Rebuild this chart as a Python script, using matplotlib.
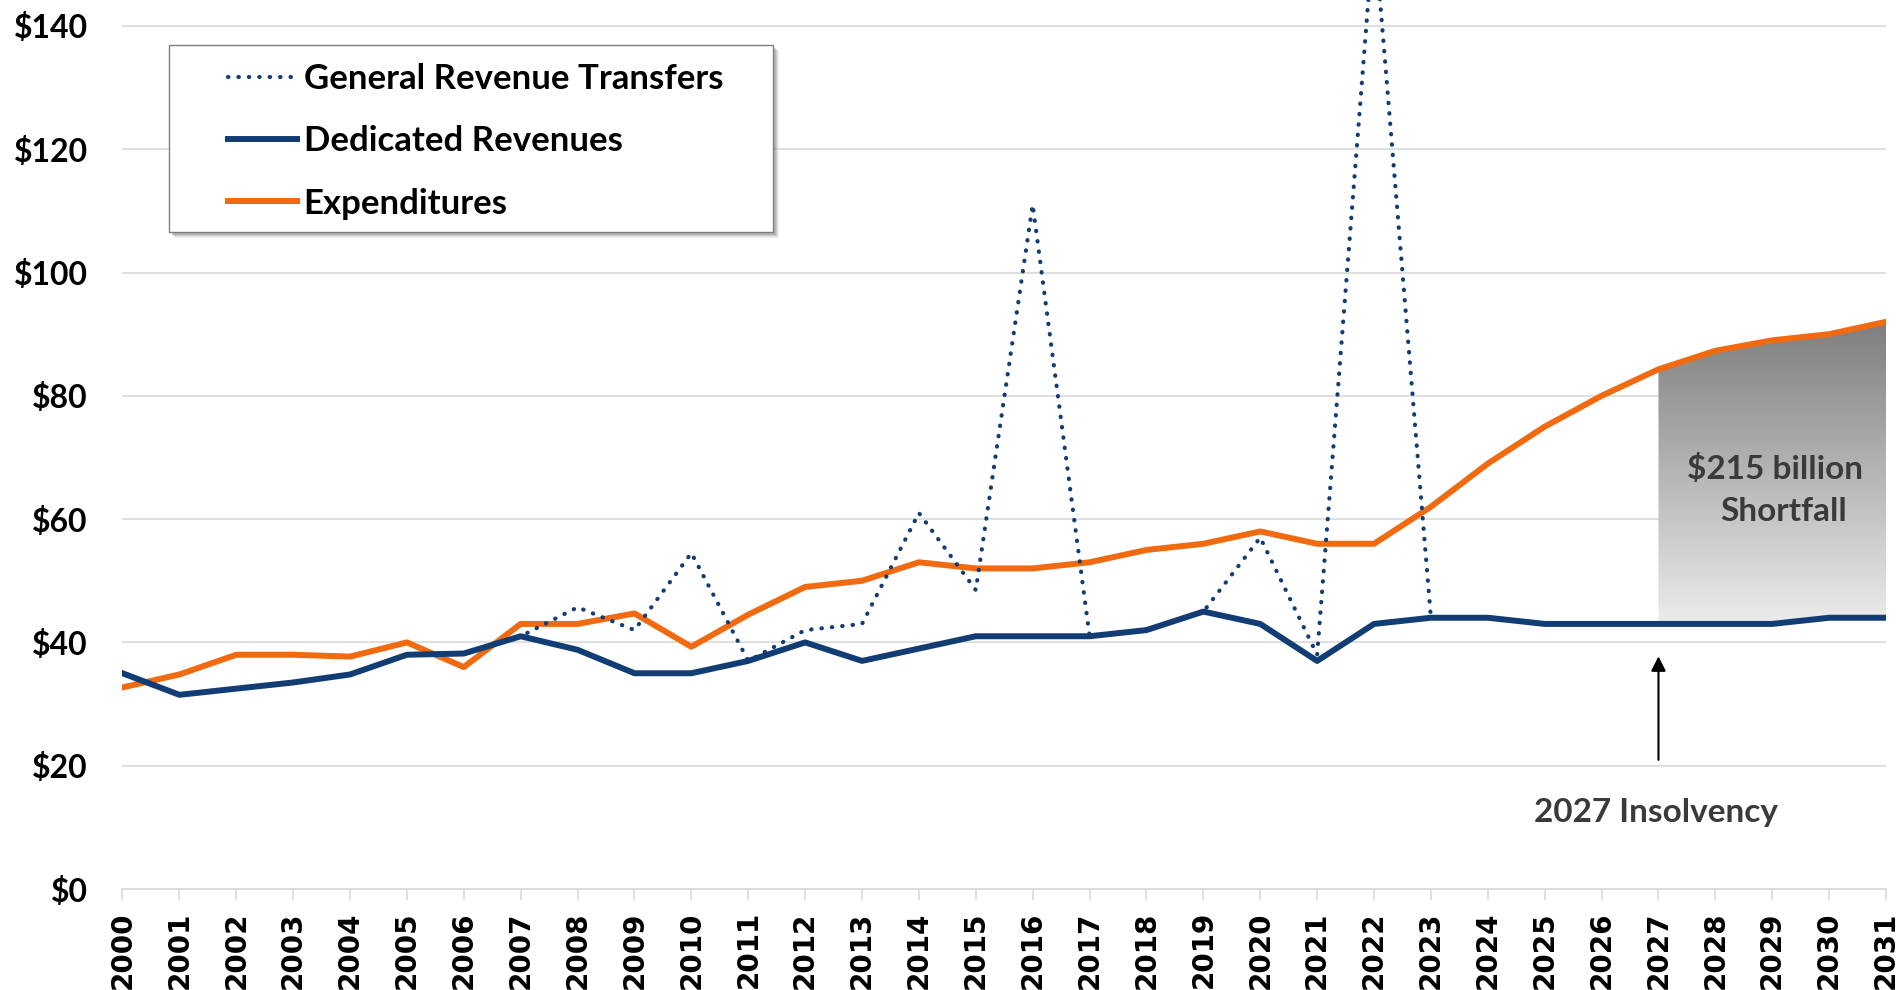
import numpy as np
import matplotlib
matplotlib.use('Agg')
import matplotlib.pyplot as plt
from matplotlib.colors import LinearSegmentedColormap
from matplotlib.patches import Rectangle

years = list(range(2000, 2032))

# $ billions
dedicated = [35, 31.5, 32.5, 33.5, 34.8, 38, 38.2, 41, 38.8, 35, 35, 37, 40, 37, 39, 41,
             41, 41, 42, 45, 43, 37, 43, 44, 44, 43, 43, 43, 43, 43, 44, 44]
expenditures = [32.7, 34.8, 38, 38, 37.7, 40, 36, 43, 43, 44.7, 39.3, 44.5, 49, 50, 53, 52,
                52, 53, 55, 56, 58, 56, 56, 62, 69, 75, 80, 84.3, 87.3, 89, 90, 92]
# total incl. general revenue transfers, only through 2023
transfer_years = list(range(2000, 2024))
with_transfers = [35, 31.5, 32.5, 33.5, 34.8, 38, 38.2, 41, 45.7, 42, 54.5, 37, 42, 43, 61, 48.5,
                  111, 41, 42, 45, 57, 38, 156, 44]

insolvency_year = 2027
shortfall_label = ['$215 billion', 'Shortfall']

navy = '#123c74'
orange = '#f26a10'
grid_c = '#d9d9d9'
txt_c = '#3a3a3a'

fig = plt.figure(figsize=(19.02, 9.90), dpi=100)
ax = fig.add_axes([0.0644, 0.102, 0.9272, 0.898])

ax.plot(years, expenditures, color=orange, lw=4.3, zorder=4, solid_joinstyle='round',
        label='Expenditures')
ax.plot(years, dedicated, color=navy, lw=4.3, zorder=5, solid_joinstyle='round',
        label='Dedicated Revenues')
ax.plot(transfer_years, with_transfers, color=navy, lw=3.0, ls=(0, (0.1, 2.4)),
        dash_capstyle='round', zorder=6, label='General Revenue Transfers')

# shortfall area with vertical gradient
i0 = years.index(insolvency_year)
sx, sd, se = years[i0:], dedicated[i0:], expenditures[i0:]
poly = ax.fill_between(sx, sd, se, facecolor='none', edgecolor='none')
grad = np.linspace(0, 1, 256).reshape(-1, 1)
cmap = LinearSegmentedColormap.from_list('shade', ['#ececec', '#7e7e7e'])
im = ax.imshow(grad, extent=[sx[0], sx[-1], min(sd), max(se)], origin='lower',
               cmap=cmap, aspect='auto', zorder=2, interpolation='bicubic')
im.set_clip_path(poly.get_paths()[0], transform=ax.transData)

ax.text(2029.05, 68.1, shortfall_label[0], ha='center', va='center', fontsize=24,
        family='Lato', weight='bold', color=txt_c, zorder=7)
ax.text(2029.2, 61.3, shortfall_label[1], ha='center', va='center', fontsize=24,
        family='Lato', weight='bold', color=txt_c, zorder=7)

ax.annotate('', xy=(insolvency_year, 38.2), xytext=(insolvency_year, 20.5),
            arrowprops=dict(arrowstyle='-|>', color='black', lw=1.5, mutation_scale=22),
            zorder=7)
ax.text(insolvency_year - 0.05, 12.4, f'{insolvency_year} Insolvency', ha='center',
        va='center', fontsize=24, family='Lato', weight='bold', color=txt_c)

ax.set_xlim(2000, 2031)
ax.set_ylim(0, 144.2)
ax.set_yticks(range(0, 141, 20))
ax.set_yticklabels([f'${v}' for v in range(0, 141, 20)], fontsize=23,
                   family='Lato', weight='bold')
ax.set_xticks(years)
ax.set_xticklabels([str(y) for y in years], rotation=90, fontsize=20,
                   family='DejaVu Sans', weight='bold')
ax.tick_params(axis='y', length=0, pad=25)
ax.tick_params(axis='x', length=8, width=1.1, color=grid_c, pad=8, direction='out')
ax.grid(axis='y', color=grid_c, lw=1.2)
ax.set_axisbelow(True)
for s in ['top', 'right', 'left']:
    ax.spines[s].set_visible(False)
ax.spines['bottom'].set_color(grid_c)
ax.spines['bottom'].set_linewidth(1.2)

# legend box with drop shadow
bx, by, bw, bh = 0.0261, 0.7394, 0.3426, 0.2101
for k, a in enumerate([0.10, 0.15, 0.22, 0.30]):
    off = 0.0035 - k * 0.0006
    ax.add_patch(Rectangle((bx + off, by - off * 2.0), bw, bh, transform=ax.transAxes,
                           facecolor='#808080', edgecolor='none', alpha=a, zorder=8))
ax.add_patch(Rectangle((bx, by), bw, bh, transform=ax.transAxes, facecolor='white',
                       edgecolor='#7f7f7f', lw=1.0, zorder=9))
h, l = ax.get_legend_handles_labels()
leg = ax.legend(h[::-1], l[::-1], loc='upper left', bbox_to_anchor=(0.0598, 0.929),
                frameon=False, borderpad=0, borderaxespad=0, handlelength=2.0,
                handletextpad=0.18, labelspacing=0.87,
                prop=dict(family='Lato', weight='bold', size=25))
leg.set_zorder(10)

fig.savefig('out.png', dpi=100)
